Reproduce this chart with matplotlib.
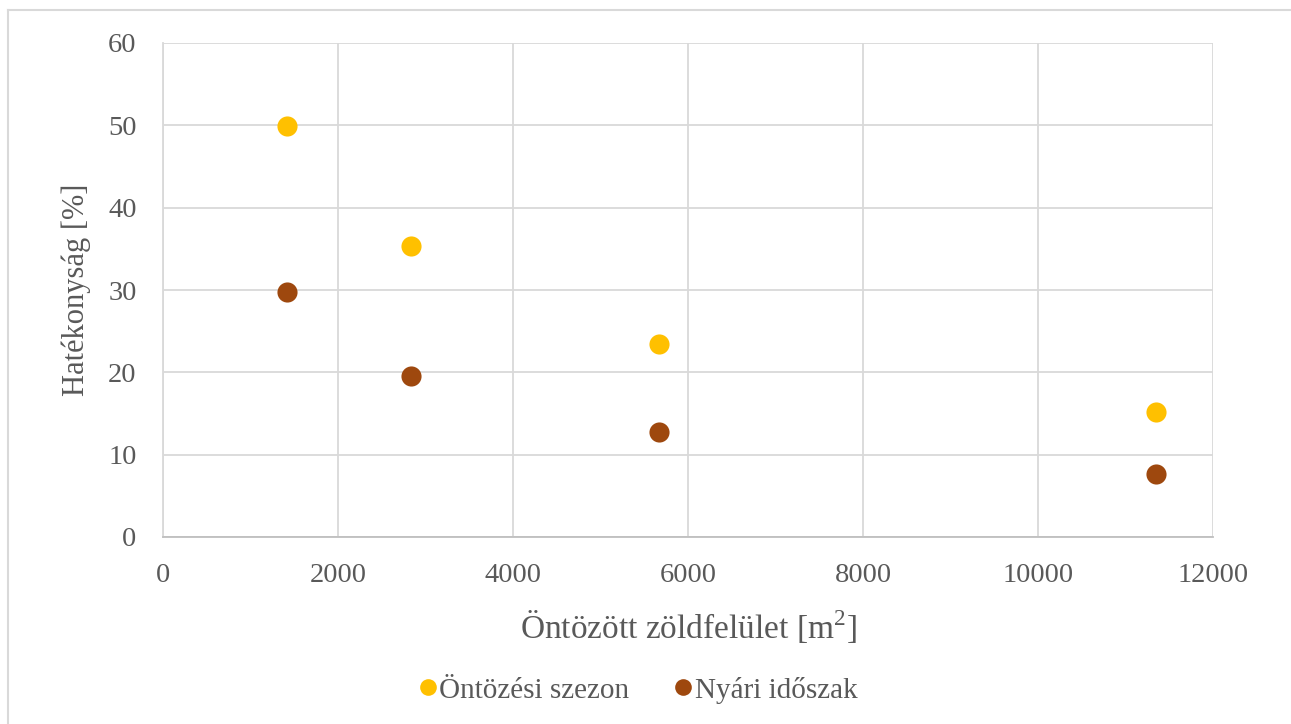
import matplotlib
matplotlib.use("Agg")
import matplotlib.pyplot as plt
from matplotlib.lines import Line2D

# Irrigated green area [m2] and efficiency [%]
area = [1418, 2836, 5672, 11344]
season_eff = [49.9, 35.3, 23.5, 15.2]
summer_eff = [29.8, 19.6, 12.7, 7.7]

series_names = ["Öntözési szezon", "Nyári időszak"]
x_ticks = [0, 2000, 4000, 6000, 8000, 10000, 12000]
y_ticks = [0, 10, 20, 30, 40, 50, 60]

YELLOW = "#FFC000"
BROWN = "#9E480E"
TEXT = "#595959"
GRID = "#D9D9D9"

plt.rcParams["font.family"] = ["Liberation Serif", "DejaVu Serif"]

fig = plt.figure(figsize=(12.91, 7.24), dpi=100)
ax = fig.add_axes([163 / 1291, 1 - 537 / 724, (1213 - 163) / 1291, (537 - 43) / 724])

ax.scatter(area, season_eff, s=210, color=YELLOW, marker="o", linewidths=0, zorder=3,
           label=series_names[0])
ax.scatter(area, summer_eff, s=210, color=BROWN, marker="o", linewidths=0, zorder=3,
           label=series_names[1])

ax.set_xlim(0, 12000)
ax.set_ylim(0, 60)
ax.set_xticks(x_ticks)
ax.set_yticks(y_ticks)
ax.grid(True, color=GRID, linewidth=1.3)
ax.set_axisbelow(True)
for side in ["top", "right"]:
    ax.spines[side].set_visible(False)
ax.spines["left"].set_color(GRID)
ax.spines["bottom"].set_color("#BFBFBF")
ax.spines["left"].set_linewidth(1.3)
ax.spines["bottom"].set_linewidth(1.3)
ax.tick_params(length=0, labelsize=20.5, colors=TEXT)
ax.tick_params(axis="x", pad=19)
ax.tick_params(axis="y", pad=19)

ax.set_xlabel("Öntözött zöldfelület [m$^{\\mathregular{2}}$]", fontsize=24, color=TEXT, labelpad=14)
ax.set_ylabel("Hatékonyság [%]", fontsize=22, color=TEXT, labelpad=12)

handles = [
    Line2D([], [], linestyle="none", marker="o", markersize=12, color=YELLOW, markeredgewidth=0),
    Line2D([], [], linestyle="none", marker="o", markersize=12, color=BROWN, markeredgewidth=0),
]
leg = fig.legend(handles, series_names, loc="center", bbox_to_anchor=(639 / 1291, 1 - 690 / 724),
                 ncol=2, frameon=False, fontsize=21, handlelength=0.5, handletextpad=0.15,
                 columnspacing=1.6)
for t in leg.get_texts():
    t.set_color(TEXT)

# Outer frame lines
fig.add_artist(Line2D([8 / 1291, 1], [1 - 10 / 724, 1 - 10 / 724], color="#D9D9D9", linewidth=1.5,
                      transform=fig.transFigure))
fig.add_artist(Line2D([8 / 1291, 8 / 1291], [0, 1 - 10 / 724], color="#D9D9D9", linewidth=1.5,
                      transform=fig.transFigure))

fig.savefig("out.png", dpi=100)
